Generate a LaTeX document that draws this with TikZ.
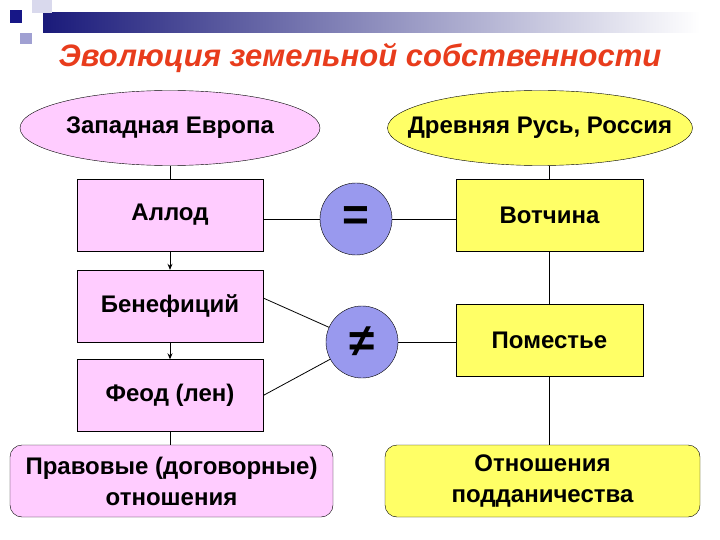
\documentclass[tikz,border=0pt]{standalone}
\usepackage{fontspec}
\setmainfont{Liberation Sans}
\usepackage{tikz}
\usetikzlibrary{shapes.geometric, arrows.meta}
\definecolor{zapad}{RGB}{255, 204, 255}
\definecolor{rus}{RGB}{255, 255, 102}
\definecolor{ravno}{RGB}{153, 153, 238}
\definecolor{titlered}{RGB}{232, 60, 28}
\definecolor{bardark}{RGB}{26, 26, 122}
\definecolor{barlight}{RGB}{160, 160, 210}

\begin{document}
\begin{tikzpicture}[x=1pt, y=-1pt,
				region/.style={ellipse, draw=black, thin, minimum width=300pt, minimum height=75pt, inner xsep=-25pt, inner ysep=0pt, font=\fontsize{24}{28}\selectfont\bfseries},
				pinkbox/.style={rectangle, draw=black, fill=zapad, thin, minimum width=186pt, minimum height=72pt, align=center, font=\fontsize{24}{28}\selectfont\bfseries},
				yelbox/.style={rectangle, draw=black, fill=rus, thin, minimum width=187pt, minimum height=72pt, align=center, font=\fontsize{24}{28}\selectfont\bfseries},
				relbox/.style={rectangle, draw=black, thin, rounded corners=12pt, minimum height=72pt, align=center, font=\fontsize{24}{31}\selectfont\bfseries},
				sign/.style={circle, draw=black, fill=ravno, thin, minimum size=72pt, inner sep=0pt, font=\fontsize{46}{46}\selectfont\bfseries},
				link/.style={draw=black, line width=0.8pt},
				arrow/.style={-{Stealth[length=6pt, width=5pt]}, line width=0.8pt, draw=black}
				]
				\useasboundingbox (0,0) rectangle (720,540);
				
				% Slide decoration
				\shade[left color=bardark, right color=white] (43,13) rectangle (700,33);
				\fill[barlight!40] (32,0) rectangle (52,13);
				\fill[bardark!90!blue] (10,10) rectangle (22,23);
				\fill[barlight] (20,33) rectangle (32,44);
				
				% Title
				\node[text=titlered, font=\fontsize{31}{36}\selectfont\bfseries\itshape] (title) at (360, 58) {Эволюция земельной собственности};
				
				% Column 1: Western Europe
				\node[region, fill=zapad] (west) at (170, 128) {Западная Европа};
				\node[pinkbox] (allod) at (170, 215) {Аллод};
				\node[pinkbox] (benef) at (170, 306) {Бенефиций};
				\node[pinkbox] (feod) at (170, 395.5) {Феод (лен)};
				\node[relbox, fill=zapad, minimum width=323pt] (pravo) at (171.5, 481) {Правовые (договорные)\\отношения};
				
				% Column 2: Signs
				\node[sign] (eq) at (356, 219) {=};
				\node[sign] (neq) at (362, 342) {≠};
				
				% Column 3: Rus, Russia
				\node[region, fill=rus, minimum width=305pt] (rus) at (540, 128) {Древняя Русь, Россия};
				\node[yelbox] (votch) at (549.5, 215) {Вотчина};
				\node[yelbox] (pomest) at (549.5, 340) {Поместье};
				\node[relbox, fill=rus, minimum width=315pt] (podd) at (542.5, 481) {Отношения\\подданичества};
				
				% Left chain
				\draw[link] (west) -- (allod);
				\draw[arrow] (allod) -- (benef);
				\draw[arrow] (benef) -- (feod);
				\draw[link] (feod) -- (feod |- pravo.north);
				
				% Right chain
				\draw[link] (rus.south -| votch.center) -- (votch);
				\draw[link] (votch) -- (pomest);
				\draw[link] (pomest) -- (pomest |- podd.north);
				
				% Comparisons
				\draw[link] (allod.east |- eq) -- (eq);
				\draw[link] (eq) -- (eq -| votch.west);
				\draw[link] ([yshift=8pt]benef.east) -- (neq);
				\draw[link] (feod.east) -- (neq);
				\draw[link] (neq) -- (neq -| pomest.west);
			\end{tikzpicture}
\end{document}
